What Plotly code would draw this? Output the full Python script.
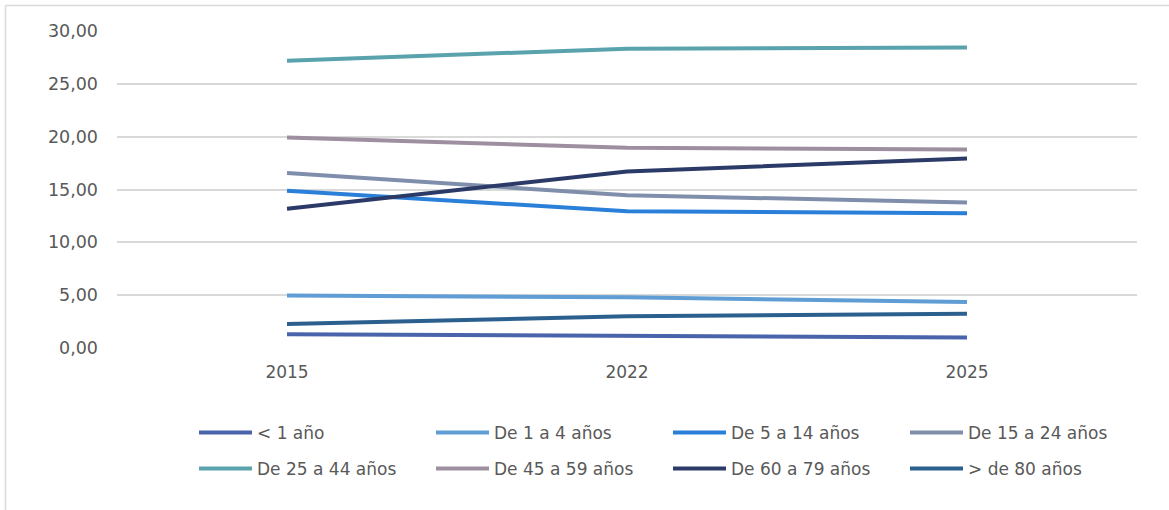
import plotly.graph_objects as go

years = ["2015", "2022", "2025"]
series_names = ["< 1 año", "De 1 a 4 años", "De 5 a 14 años", "De 15 a 24 años",
                "De 25 a 44 años", "De 45 a 59 años", "De 60 a 79 años", "> de 80 años"]
v_lt1 = [1.29, 1.17, 1.00]
v_1_4 = [4.96, 4.80, 4.36]
v_5_14 = [14.87, 12.95, 12.76]
v_15_24 = [16.55, 14.46, 13.77]
v_25_44 = [27.19, 28.32, 28.45]
v_45_59 = [19.93, 18.95, 18.79]
v_60_79 = [13.17, 16.71, 17.94]
v_gt80 = [2.27, 3.00, 3.25]
all_values = [v_lt1, v_1_4, v_5_14, v_15_24, v_25_44, v_45_59, v_60_79, v_gt80]
colors = ["#4A64AC", "#5F9DD4", "#2A7FD8", "#7F8FAB", "#5AA3AD", "#9E8FA0", "#2B3A67", "#2B5F8E"]
y_ticks = [0, 5, 10, 15, 20, 25, 30]

W, H = 1169, 510
ml, mr, mt, mb = 117, 32, 31, 162
pw, ph = W - ml - mr, H - mt - mb

def px_x(px):
    return (px - ml) / pw

def px_y(py):
    return (H - mb - py) / ph

font_main = "DejaVu Sans"
gray = "#595959"

# legend grid: 4 columns x 2 rows (pixel positions of legend box / row centre)
col_px = [194, 431, 668, 905]
row_px = [433, 469]

fig = go.Figure()
legends = {}
for i, (name, vals, col) in enumerate(zip(series_names, all_values, colors)):
    lname = "legend" if i == 0 else f"legend{i + 1}"
    fig.add_trace(go.Scatter(
        x=years, y=vals, name=name, mode="lines",
        line=dict(color=col, width=4),
        legend=lname,
    ))
    legends[lname] = dict(
        x=px_x(col_px[i % 4]), y=px_y(row_px[i // 4]),
        xanchor="left", yanchor="middle", orientation="h",
        font=dict(family=font_main, size=17, color=gray),
        itemwidth=53, bgcolor="rgba(0,0,0,0)",
        itemclick=False, itemdoubleclick=False,
    )

fig.update_layout(
    width=W, height=H,
    margin=dict(l=ml, r=mr, t=mt, b=mb),
    paper_bgcolor="white", plot_bgcolor="white",
    separators=",.",
    showlegend=True,
    xaxis=dict(
        type="category", range=[-0.5, 2.5], showgrid=False, zeroline=False,
        showline=False, ticks="", ticklabelstandoff=12,
        tickfont=dict(family=font_main, size=17, color=gray),
    ),
    yaxis=dict(
        range=[0, 30], tickvals=y_ticks, tickformat=".2f",
        showgrid=True, gridcolor="#D9D9D9", gridwidth=1.5,
        zeroline=False, showline=False, ticks="", ticklabelstandoff=18,
        tickfont=dict(family=font_main, size=17.5, color=gray),
    ),
    shapes=[
        dict(type="line", xref="paper", yref="paper",
             x0=px_x(5.5), x1=px_x(1175), y0=px_y(5.5), y1=px_y(5.5),
             line=dict(color="#D9D9D9", width=1.5)),
        dict(type="line", xref="paper", yref="paper",
             x0=px_x(5.5), x1=px_x(5.5), y0=px_y(5.5), y1=px_y(515),
             line=dict(color="#D9D9D9", width=1.5)),
    ],
    **legends,
)

fig.write_html("out.html")
